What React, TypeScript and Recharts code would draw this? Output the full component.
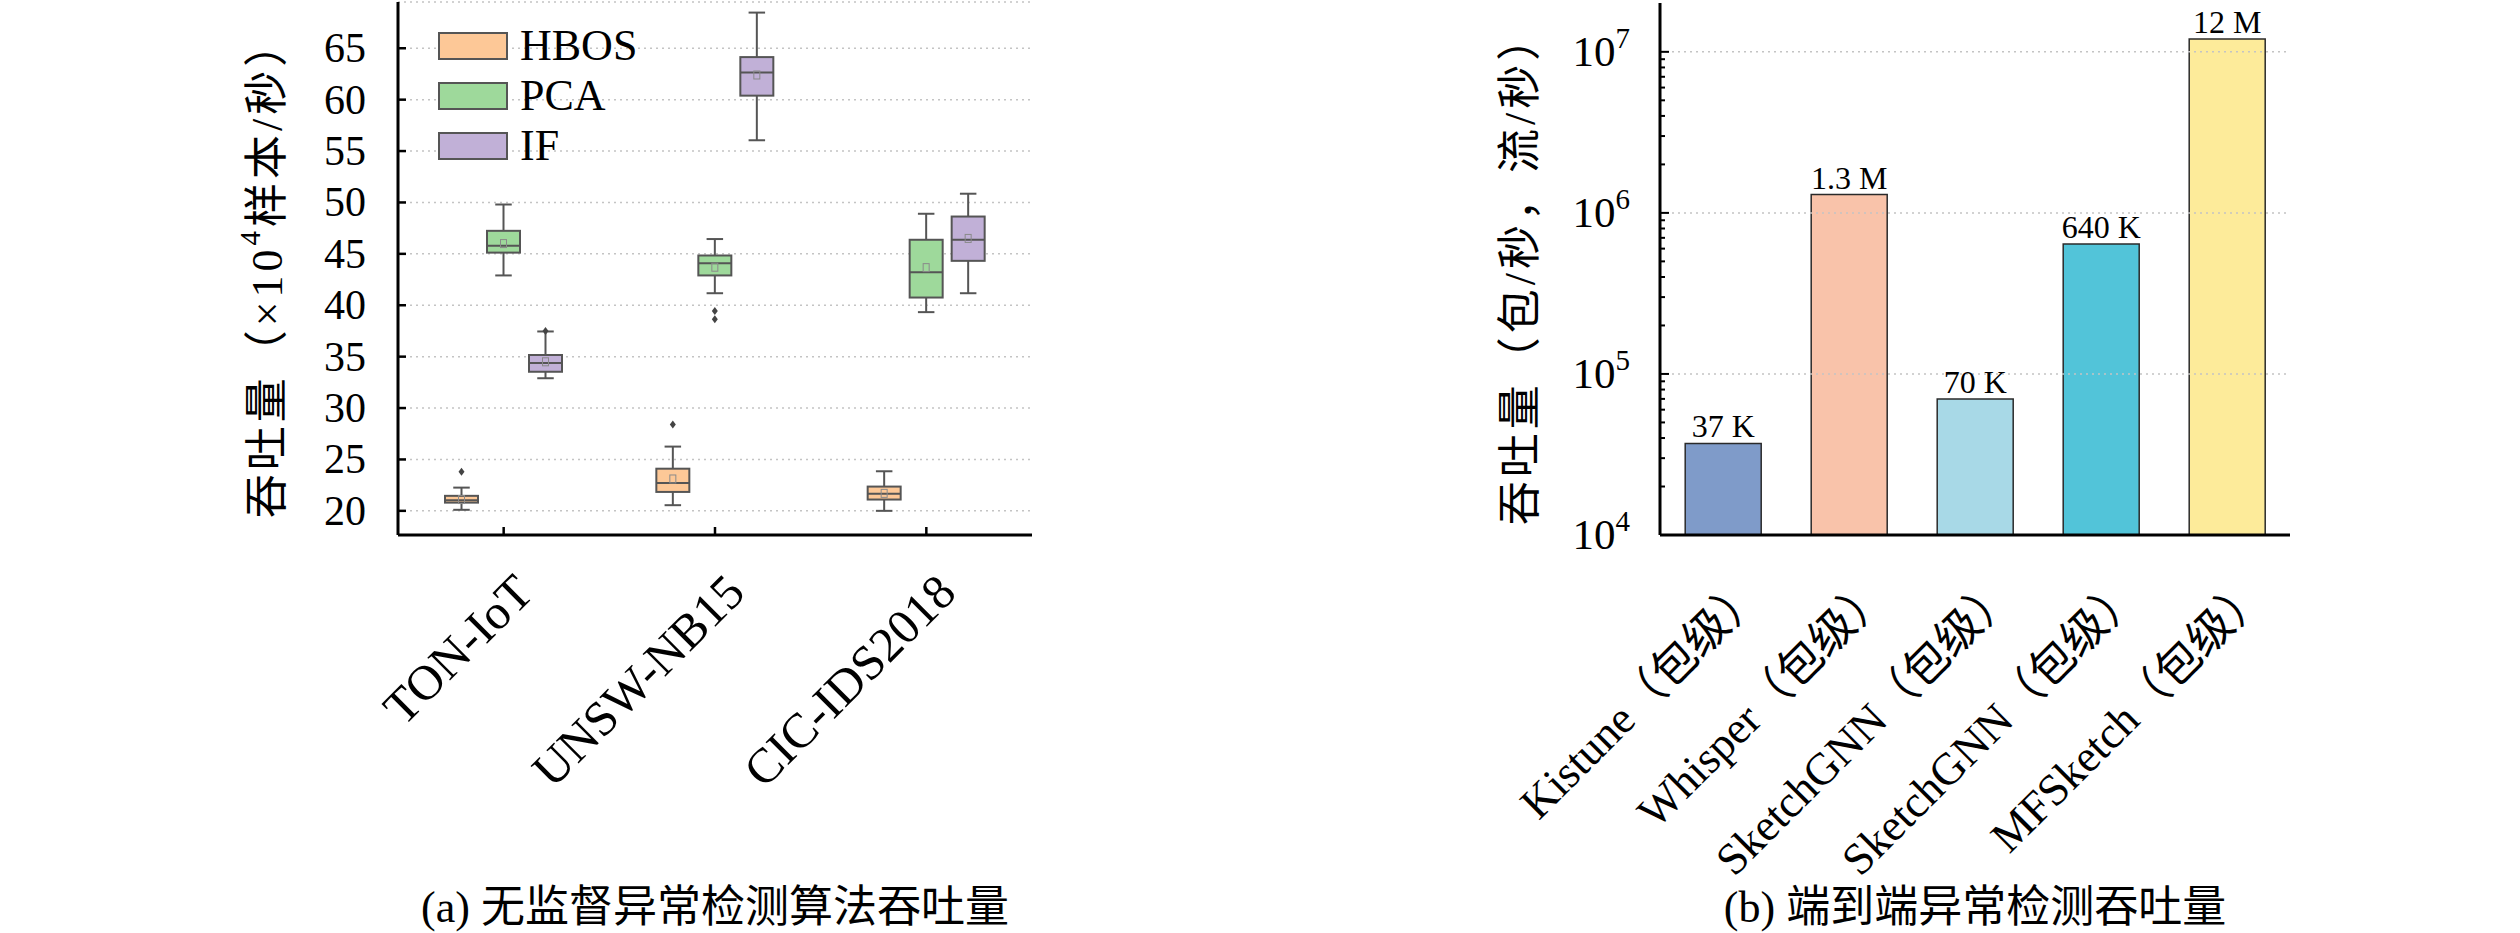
import React from "react";
import {
  Bar,
  BarChart,
  CartesianGrid,
  Cell,
  LabelList,
  Legend,
  ReferenceLine,
  XAxis,
  YAxis,
} from "recharts";

const FONT = "'Liberation Serif', 'Noto Sans CJK SC', serif";

// (a) box plots, one stats object per dataset
const datasets = ["TON-IoT", "UNSW-NB15", "CIC-IDS2018"];
const methods = ["HBOS", "PCA", "IF"];
const methodColors = ["#fdc897", "#9ed99b", "#c1b0d7"];

const hbos = [
  { lo: 20.1, q1: 20.8, med: 21.04, q3: 21.46, hi: 22.26, mean: 21.1, fliers: [23.8] },
  { lo: 20.55, q1: 21.84, med: 22.7, q3: 24.1, hi: 26.25, mean: 23.1, fliers: [28.4] },
  { lo: 20.0, q1: 21.1, med: 21.67, q3: 22.36, hi: 23.85, mean: 21.7, fliers: [] },
];
const pca = [
  { lo: 42.9, q1: 45.12, med: 45.8, q3: 47.24, hi: 49.8, mean: 46.0, fliers: [] },
  { lo: 41.17, q1: 42.9, med: 44.08, q3: 44.84, hi: 46.44, mean: 43.7, fliers: [39.43, 38.63] },
  { lo: 39.33, q1: 40.75, med: 43.2, q3: 46.37, hi: 48.9, mean: 43.66, fliers: [] },
];
const iforest = [
  { lo: 32.9, q1: 33.53, med: 34.37, q3: 35.16, hi: 37.45, mean: 34.5, fliers: [37.5] },
  { lo: 56.05, q1: 60.39, med: 62.64, q3: 64.14, hi: 68.47, mean: 62.4, fliers: [] },
  { lo: 41.17, q1: 44.32, med: 46.37, q3: 48.63, hi: 50.85, mean: 46.5, fliers: [] },
];
const leftTicks = [20, 25, 30, 35, 40, 45, 50, 55, 60, 65];

// (b) end-to-end throughput, log scale
const systems = [
  "Kistune（包级）",
  "Whisper（包级）",
  "SketchGNN（包级）",
  "SketchGNN（包级）",
  "MFSketch（包级）",
];
const throughput = [3.7e4, 1.3e6, 7.0e4, 6.4e5, 1.2e7];
const barLabels = ["37 K", "1.3 M", "70 K", "640 K", "12 M"];
const barColors = ["#7f9bc9", "#f9c3aa", "#a8d9e7", "#52c4d9", "#fdeb9a"];
const majorTicks = [1e4, 1e5, 1e6, 1e7];
const exponents = [4, 5, 6, 7];

const boxRows = datasets.map((name, i) => ({
  name,
  HBOS: hbos[i],
  PCA: pca[i],
  IF: iforest[i],
}));

const barRows = systems.map((name, i) => ({
  name,
  value: throughput[i],
  label: barLabels[i],
}));

const logTicks: number[] = [];
majorTicks.forEach((m, i) => {
  logTicks.push(m);
  if (i < majorTicks.length - 1) for (let k = 2; k <= 9; k++) logTicks.push(m * k);
});

const EDGE = "#555";

function BoxGlyph(props: any) {
  const { x, y, width, height, payload, method, color } = props;
  const s = payload[method];
  const top = Math.min(y, y + height);
  const h = Math.abs(height);
  const k = h / (s.hi - s.lo);
  const py = (v: number) => top + (s.hi - v) * k;
  const cx = x + width / 2;
  const cap = width / 4;
  return (
    <g>
      <line x1={cx} x2={cx} y1={py(s.hi)} y2={py(s.q3)} stroke={EDGE} strokeWidth={2} />
      <line x1={cx} x2={cx} y1={py(s.q1)} y2={py(s.lo)} stroke={EDGE} strokeWidth={2} />
      <line x1={cx - cap} x2={cx + cap} y1={py(s.hi)} y2={py(s.hi)} stroke={EDGE} strokeWidth={2} />
      <line x1={cx - cap} x2={cx + cap} y1={py(s.lo)} y2={py(s.lo)} stroke={EDGE} strokeWidth={2} />
      <rect
        x={x}
        y={py(s.q3)}
        width={width}
        height={py(s.q1) - py(s.q3)}
        fill={color}
        stroke={EDGE}
        strokeWidth={2}
      />
      <line x1={x} x2={x + width} y1={py(s.med)} y2={py(s.med)} stroke={EDGE} strokeWidth={2} />
      <rect x={cx - 3} y={py(s.mean) - 4} width={6} height={8} fill="none" stroke="#8a8a8a" strokeWidth={1} />
      {s.fliers.map((f: number, j: number) => (
        <path
          key={j}
          d={`M${cx},${py(f) - 4} L${cx + 3},${py(f)} L${cx},${py(f) + 4} L${cx - 3},${py(f)} Z`}
          fill="#444"
        />
      ))}
    </g>
  );
}

function LeftYTick({ x, y, payload }: any) {
  return (
    <g>
      <line x1={x} x2={x + 8} y1={y} y2={y} stroke="#000" strokeWidth={2.5} />
      <text x={x - 32} y={y} textAnchor="end" dominantBaseline="central" fontSize={42} fontFamily={FONT} fill="#000">
        {payload.value}
      </text>
    </g>
  );
}

function LeftXTick({ x, y, payload }: any) {
  const ax = x + 32;
  const ay = y + 60;
  return (
    <g>
      <line x1={x} x2={x} y1={y} y2={y - 8} stroke="#000" strokeWidth={2.5} />
      <text
        x={ax}
        y={ay}
        transform={`rotate(-45 ${ax} ${ay})`}
        textAnchor="end"
        fontSize={49}
        fontFamily={FONT}
        fill="#000"
      >
        {payload.value}
      </text>
    </g>
  );
}

function LogYTick({ x, y, payload }: any) {
  const idx = majorTicks.indexOf(payload.value);
  const major = idx >= 0;
  return (
    <g>
      <line x1={x} x2={x + (major ? 9 : 5)} y1={y} y2={y} stroke="#000" strokeWidth={2} />
      {major && (
        <text x={x - 30} y={y + 14} textAnchor="end" fontSize={43} fontFamily={FONT} fill="#000">
          10
          <tspan fontSize={29} dy={-18}>
            {exponents[idx]}
          </tspan>
        </text>
      )}
    </g>
  );
}

function RightXTick({ x, y, payload }: any) {
  const ax = x + 42;
  const ay = y + 60;
  return (
    <text
      x={ax}
      y={ay}
      transform={`rotate(-45 ${ax} ${ay})`}
      textAnchor="end"
      fontSize={45}
      fontFamily={FONT}
      fill="#000"
    >
      {payload.value}
    </text>
  );
}

function BoxLegend() {
  return (
    <div style={{ fontFamily: FONT, fontSize: 44, lineHeight: "50px" }}>
      {methods.map((m, i) => (
        <div key={m} style={{ display: "flex", alignItems: "center", height: 50 }}>
          <span
            style={{
              display: "inline-block",
              width: 66,
              height: 24,
              background: methodColors[i],
              border: `2px solid ${EDGE}`,
              marginRight: 12,
            }}
          />
          <span>{m}</span>
        </div>
      ))}
    </div>
  );
}

const axisLine = { stroke: "#000", strokeWidth: 3 };

function BoxChart() {
  return (
    <BarChart
      width={1100}
      height={933}
      data={boxRows}
      margin={{ top: 2, right: 68, left: 298, bottom: 338 }}
      barGap={9}
      barCategoryGap={0}
    >
      <CartesianGrid vertical={false} stroke="#c4c4c4" strokeDasharray="2 4" strokeWidth={1.5} />
      <XAxis
        dataKey="name"
        height={60}
        interval={0}
        tickSize={0}
        tickMargin={0}
        tickLine={false}
        axisLine={axisLine}
        tick={<LeftXTick />}
      />
      <XAxis xAxisId="top" orientation="top" height={0} tick={false} tickLine={false} axisLine={axisLine} />
      <YAxis
        type="number"
        width={100}
        domain={[17.65, 69.5]}
        allowDataOverflow
        ticks={leftTicks}
        interval={0}
        tickSize={0}
        tickMargin={0}
        tickLine={false}
        axisLine={axisLine}
        tick={<LeftYTick />}
        label={{
          content: (p: any) => {
            const cx = p.viewBox.x - 31;
            const cy = p.viewBox.y + p.viewBox.height / 2;
            return (
              <text
                x={cx}
                y={cy}
                transform={`rotate(-90 ${cx} ${cy})`}
                textAnchor="middle"
                dominantBaseline="central"
                fontSize={44}
                letterSpacing={4}
                fontFamily={FONT}
                fill="#000"
              >
                吞吐量（×10
                <tspan fontSize={29} dy={-17}>
                  4
                </tspan>
                <tspan dy={17}>样本/秒）</tspan>
              </text>
            );
          },
        }}
      />
      <YAxis yAxisId="right" orientation="right" width={0} tick={false} tickLine={false} axisLine={axisLine} />
      <Legend
        layout="horizontal"
        align="center"
        verticalAlign="middle"
        content={<BoxLegend />}
        wrapperStyle={{ left: 438, top: 21, width: 300, height: 160 }}
      />
      {methods.map((m, i) => (
        <Bar
          key={m}
          dataKey={(d: any) => [d[m].lo, d[m].hi]}
          barSize={33}
          isAnimationActive={false}
          shape={(p: any) => <BoxGlyph {...p} method={m} color={methodColors[i]} />}
        />
      ))}
    </BarChart>
  );
}

function ThroughputChart() {
  return (
    <BarChart
      width={1100}
      height={933}
      data={barRows}
      margin={{ top: 3, right: 110, left: 260, bottom: 338 }}
      barCategoryGap="20%"
    >
      <XAxis
        dataKey="name"
        height={60}
        interval={0}
        tickSize={0}
        tickMargin={0}
        tickLine={false}
        axisLine={axisLine}
        tick={<RightXTick />}
      />
      <XAxis xAxisId="top" orientation="top" height={0} tick={false} tickLine={false} axisLine={axisLine} />
      <YAxis
        type="number"
        scale="log"
        width={100}
        domain={[1e4, 2.01e7]}
        allowDataOverflow
        ticks={logTicks}
        interval={0}
        tickSize={0}
        tickMargin={0}
        tickLine={false}
        axisLine={axisLine}
        tick={<LogYTick />}
        label={{
          content: (p: any) => {
            const cx = p.viewBox.x - 40;
            const cy = p.viewBox.y + p.viewBox.height / 2;
            return (
              <text
                x={cx}
                y={cy}
                transform={`rotate(-90 ${cx} ${cy})`}
                textAnchor="middle"
                dominantBaseline="central"
                fontSize={44}
                letterSpacing={4}
                fontFamily={FONT}
                fill="#000"
              >
                吞吐量（包/秒，流/秒）
              </text>
            );
          },
        }}
      />
      <YAxis yAxisId="right" orientation="right" width={0} tick={false} tickLine={false} axisLine={axisLine} />
      {majorTicks.slice(1).map((v) => (
        <ReferenceLine key={v} y={v} stroke="#c4c4c4" strokeDasharray="2 4" strokeWidth={1.5} />
      ))}
      <Bar dataKey="value" isAnimationActive={false} stroke="#2a2a2a" strokeWidth={1.5}>
        {barRows.map((r, i) => (
          <Cell key={i} fill={barColors[i]} />
        ))}
        <LabelList dataKey="label" position="top" offset={6} style={{ fontSize: 32, fontFamily: FONT, fill: "#000" }} />
      </Bar>
    </BarChart>
  );
}

const captionStyle: React.CSSProperties = {
  position: "absolute",
  top: 883,
  height: 50,
  lineHeight: "50px",
  fontSize: 44,
  fontFamily: FONT,
  textAlign: "center",
  whiteSpace: "nowrap",
};

export default function App() {
  return (
    <div style={{ position: "absolute", left: 0, top: 0, width: 2520, height: 933, background: "#fff", overflow: "hidden" }}>
      <div style={{ position: "absolute", left: 0, top: 0 }}>
        <BoxChart />
      </div>
      <div style={{ position: "absolute", left: 1300, top: 0 }}>
        <ThroughputChart />
      </div>
      <div style={{ ...captionStyle, left: 365, width: 700 }}>(a) 无监督异常检测算法吞吐量</div>
      <div style={{ ...captionStyle, left: 1625, width: 700 }}>(b) 端到端异常检测吞吐量</div>
    </div>
  );
}
